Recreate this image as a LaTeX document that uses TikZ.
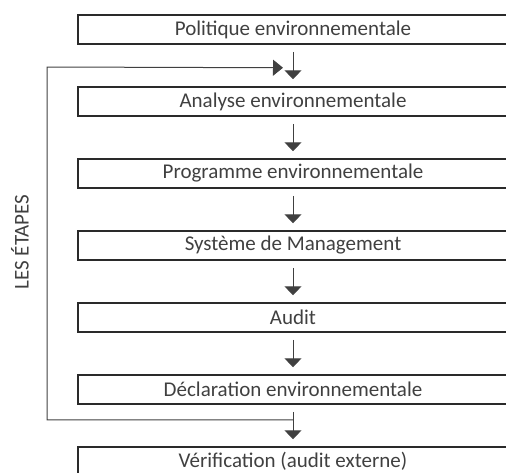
\documentclass[tikz,border=0pt]{standalone}
\usepackage{fontspec}
\setmainfont{Carlito}
\usetikzlibrary{arrows.meta,calc}
\definecolor{linec}{HTML}{404040}
\definecolor{boxc}{HTML}{2A2A2A}
\definecolor{txtc}{HTML}{404040}
\tikzset{
  stepbox/.style={draw=boxc, line width=1.5pt, minimum width=430pt, minimum height=29pt, inner sep=0pt, text=txtc, font=\fontsize{21}{24}\selectfont},
  downarr/.style={draw=linec, line width=1pt, -{Triangle[width=17pt,length=9pt]}},
  fbarr/.style={draw=linec, line width=1pt, -{Triangle[width=16pt,length=10pt]}},
}
\begin{document}
\begin{tikzpicture}[x=1pt,y=-1pt]
\useasboundingbox (0,0) rectangle (506,472);
\clip (0,0) rectangle (506,472);
\node[stepbox] (b1) at (293,29.5) {Politique environnementale};
\node[stepbox] (b2) at (293,101.5) {Analyse environnementale};
\node[stepbox] (b3) at (293,173.5) {Programme environnementale};
\node[stepbox] (b4) at (293,245.5) {Système de Management};
\node[stepbox] (b5) at (293,317.5) {Audit};
\node[stepbox] (b6) at (293,389.5) {Déclaration environnementale};
\node[stepbox] (b7) at (293,461.5) {Vérification (audit externe)};
\foreach \a/\b in {b1/b2,b2/b3,b3/b4,b4/b5,b5/b6,b6/b7}
  \draw[downarr] ([yshift=-7pt]\a.south) -- ([yshift=7pt]\b.north);
\coordinate (j) at ([yshift=-15pt]b6.south);
\coordinate (k) at ([yshift=-23pt]b1.south);
\coordinate (kt) at ([xshift=-10pt]k);
\draw[fbarr] (j) -| (47,67) -- (kt);
\node[rotate=90, text=txtc, font=\fontsize{21}{24}\selectfont] (lbl) at (20,242) {LES ÉTAPES};
\end{tikzpicture}
\end{document}
